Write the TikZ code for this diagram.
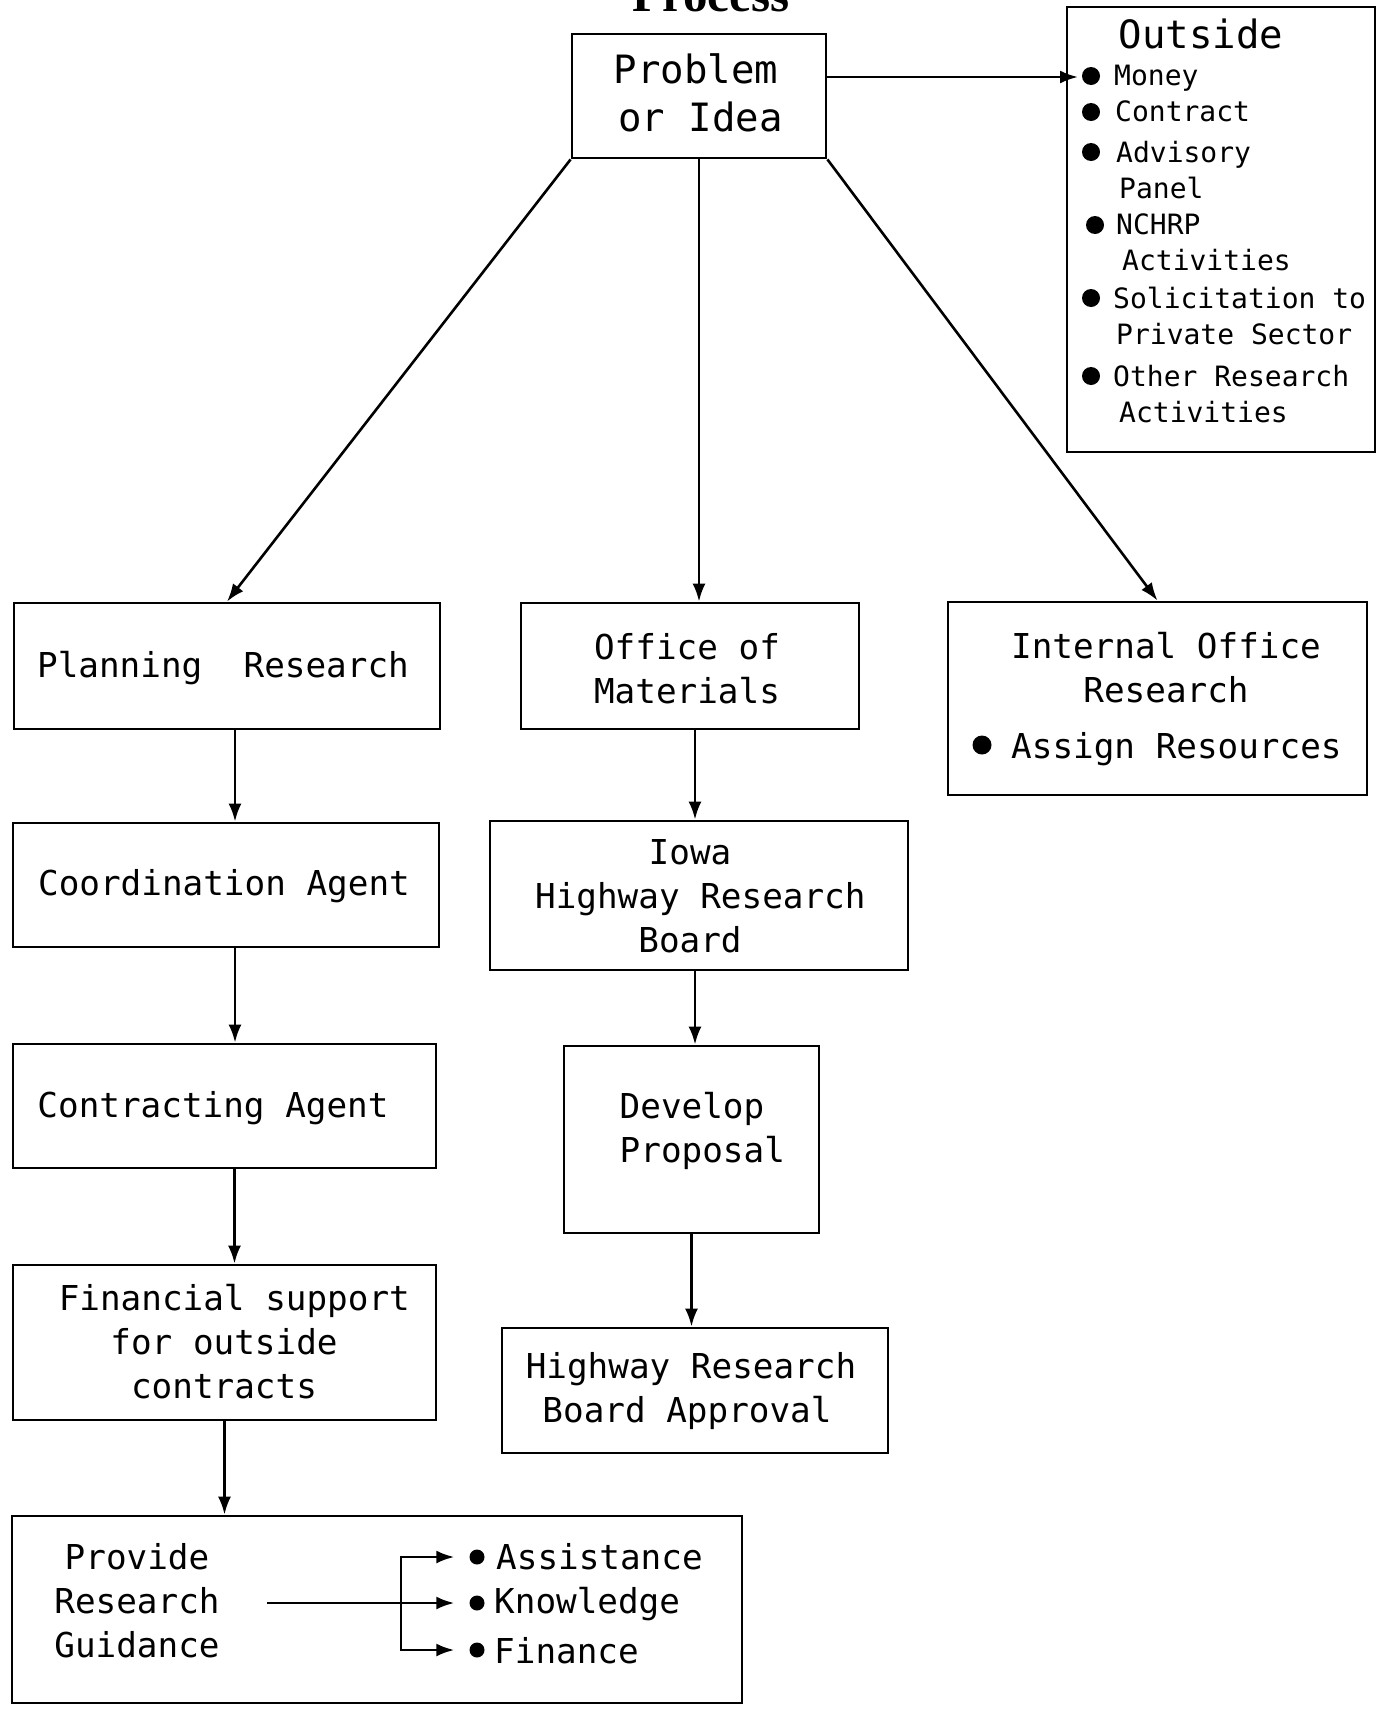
\documentclass[tikz,border=0pt]{standalone}
\usepackage{fontspec}
\setmainfont{DejaVu Sans Mono}
\newfontfamily\titlefont{Liberation Serif}
\usetikzlibrary{arrows.meta}

\begin{document}
\begin{tikzpicture}[x=1pt,y=-1pt,
  box/.style={draw, line width=2.8pt, rectangle, inner sep=0pt},
  lbl/.style={inner sep=0pt, align=center, font=\fontsize{34.3}{44}\selectfont},
  biglbl/.style={inner sep=0pt, align=center, font=\fontsize{39}{48}\selectfont},
  item/.style={inner sep=0pt, align=left, anchor=north west, font=\fontsize{28}{36}\selectfont},
  leftlbl/.style={inner sep=0pt, anchor=west, font=\fontsize{34.3}{44}\selectfont},
  bulletdot/.style={circle, fill=black, draw=none, inner sep=0pt, minimum size=#1},
  bulletdot/.default=18pt,
  arr/.style={line width=2.6pt, -{Latex[length=18pt,width=13pt]}},
]
% page frame
\fill[white] (0,0) rectangle (1380,1711);
\useasboundingbox (0,0) rectangle (1380,1711);
\clip (0,0) rectangle (1380,1711);

% heading, mostly above the page edge
\node[font=\titlefont\bfseries\fontsize{49}{49}\selectfont, anchor=base, inner sep=0pt] (title) at (711,11) {Process};

% ---------- boxes ----------
\node[box, minimum width=254pt, minimum height=124pt] (prob) at (699,96) {};
\node[box, minimum width=308pt, minimum height=445pt] (outside) at (1221,229.5) {};
\node[box, minimum width=426pt, minimum height=126pt] (plan) at (227,666) {};
\node[box, minimum width=338pt, minimum height=126pt] (office) at (690,666) {};
\node[box, minimum width=419pt, minimum height=193pt] (internal) at (1157.5,698.5) {};
\node[box, minimum width=426pt, minimum height=124pt] (coord) at (226,885) {};
\node[box, minimum width=418pt, minimum height=149pt] (iowa) at (699,895.5) {};
\node[box, minimum width=423pt, minimum height=124pt] (contract) at (224.5,1106) {};
\node[box, minimum width=255pt, minimum height=187pt] (develop) at (691.5,1139.5) {};
\node[box, minimum width=423pt, minimum height=155pt] (fin) at (224.5,1342.5) {};
\node[box, minimum width=386pt, minimum height=125pt] (appr) at (695,1390.5) {};
\node[box, minimum width=730pt, minimum height=187pt] (prov) at (377,1609.5) {};

% ---------- box texts ----------
\node[biglbl] (probtxt) at (696,93) {Problem\\\hspace*{9pt}or Idea};
\node[biglbl] (outtitle) at (1201,34) {Outside};
\node[lbl] (plantxt) at (223,668) {Planning\ \ Research};
\node[lbl] (officetxt) at (687,669) {Office of\\Materials};
\node[lbl] (inttxt) at (1166,668) {Internal Office\\Research};
\node[bulletdot=19pt] (intdot) at (982,745) {};
\node[leftlbl] (inttxt2) at (1011,749) {Assign Resources};
\node[lbl] (coordtxt) at (224,886) {Coordination Agent};
\node[lbl] (iowatxt) at (690,896) {Iowa\\\ Highway Research\\Board};
\node[lbl] (contracttxt) at (213,1108) {Contracting Agent};
\node[lbl] (developtxt) at (692,1131) {Develop\\\ Proposal};
\node[lbl] (fintxt) at (224,1342) {\ Financial support\\for outside\\contracts};
\node[lbl] (apprtxt) at (687,1391) {\hspace*{8pt}Highway Research\\Board Approval};
\node[lbl] (provtxt) at (137,1601) {Provide\\Research\\Guidance};

% ---------- outside list ----------
\node[bulletdot] (od1) at (1091,76) {};
\node[item] (oi1) at (1114,65) {Money};
\node[bulletdot] (od2) at (1091,112) {};
\node[item] (oi2) at (1115,101) {Contract};
\node[bulletdot] (od3) at (1091,152) {};
\node[item] (oi3) at (1116,141) {Advisory\\\hspace*{3pt}Panel};
\node[bulletdot] (od4) at (1095,225) {};
\node[item] (oi4) at (1116,214) {NCHRP\\\hspace*{6pt}Activities};
\node[bulletdot] (od5) at (1091,298) {};
\node[item] (oi5) at (1113,287) {Solicitation to\\\hspace*{3pt}Private Sector};
\node[bulletdot] (od6) at (1091,376) {};
\node[item] (oi6) at (1113,365) {Other Research\\\hspace*{6pt}Activities};

% ---------- guidance list ----------
\node[bulletdot=15pt] (g1) at (477,1557) {};
\node[bulletdot=15pt] (g2) at (477,1603) {};
\node[bulletdot=15pt] (g3) at (477,1650) {};
\node[leftlbl] (gt1) at (496,1557) {Assistance};
\node[leftlbl] (gt2) at (494,1604) {Knowledge};
\node[leftlbl] (gt3) at (494,1651) {Finance};
\coordinate (gstart) at (267,1603);
\coordinate (gsplit) at (401,1603);
\draw[arr, shorten >=15pt] (gstart) -- (g2.west);
\draw[arr, shorten >=15pt] (gsplit) |- (g1.west);
\draw[arr, shorten >=15pt] (gsplit) |- (g3.west);

% ---------- connectors ----------
\coordinate (outin) at (1078,77);
\draw[arr] (prob.east |- outin) -- (outin);
\draw[arr] (prob.south west) -- (plan.north);
\draw[arr] (prob.south) -- (prob.south |- office.north);
\draw[arr] (prob.south east) -- (internal.north);

\draw[arr] ([xshift=8pt]plan.south) -- ([xshift=8pt]plan.south |- coord.north);
\draw[arr] ([xshift=9pt]coord.south) -- ([xshift=9pt]coord.south |- contract.north);
\draw[arr] ([xshift=10pt]contract.south) -- ([xshift=10pt]contract.south |- fin.north);
\draw[arr] (fin.south) -- (fin.south |- prov.north);

\draw[arr] ([xshift=5pt]office.south) -- ([xshift=5pt]office.south |- iowa.north);
\draw[arr] ([xshift=-4pt]iowa.south) -- ([xshift=-4pt]iowa.south |- develop.north);
\draw[arr] (develop.south) -- (develop.south |- appr.north);
\end{tikzpicture}
\end{document}
